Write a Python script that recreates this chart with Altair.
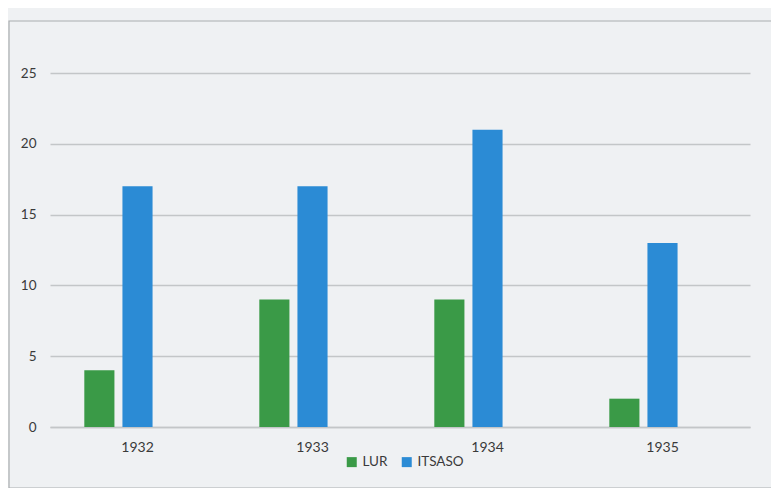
import altair as alt
import pandas as pd

years = ["1932", "1933", "1934", "1935"]
lur = [4, 9, 9, 2]
itsaso = [17, 17, 21, 13]
series = ["LUR", "ITSASO"]
colors = ["#3a9a47", "#2b8bd5"]
y_ticks = [0, 5, 10, 15, 20, 25]

rows = []
for i, y in enumerate(years):
    rows.append({"year": y, "serie": "LUR", "value": lur[i]})
    rows.append({"year": y, "serie": "ITSASO", "value": itsaso[i]})
df = pd.DataFrame(rows)

FONT = "Lato"
TXT = "#3a3a3a"

bars = alt.Chart(df).mark_bar().encode(
    x=alt.X("year:N", sort=years,
            scale=alt.Scale(paddingInner=0, paddingOuter=0),
            axis=alt.Axis(title=None, labelAngle=0, ticks=False, domain=True,
                          domainColor="#c3c6c8", domainWidth=1.5,
                          labelPadding=13, labelFontSize=14, labelFont=FONT,
                          labelColor=TXT)),
    xOffset=alt.XOffset("serie:N",
                        scale=alt.Scale(domain=["LUR", "ITSASO", "_"],
                                        paddingInner=0.21, paddingOuter=0.9)),
    y=alt.Y("value:Q",
            scale=alt.Scale(domain=[0, 25]),
            axis=alt.Axis(title=None, values=y_ticks, ticks=False, domain=False,
                          grid=True, gridColor="#c3c6c8", gridWidth=1.5,
                          labelPadding=14, labelFontSize=13.5, labelFont=FONT,
                          labelColor=TXT)),
    color=alt.Color("serie:N",
                    scale=alt.Scale(domain=series, range=colors),
                    legend=alt.Legend(title=None, orient="none",
                                      legendX=295, legendY=382,
                                      direction="horizontal",
                                      symbolType="square", symbolSize=100,
                                      symbolStrokeWidth=0,
                                      labelFontSize=13.5, labelFont=FONT,
                                      labelColor=TXT, columnPadding=12)),
)

border = alt.Chart(pd.DataFrame({"k": [0]})).mark_rect(
    fill=None, stroke="#a9adb0", strokeWidth=1.2
).encode(
    x=alt.value(-41), x2=alt.value(740),
    y=alt.value(-52), y2=alt.value(415),
)

chart = alt.layer(border, bars).properties(
    width=700, height=354,
    autosize=alt.AutoSizeParams(type="none"),
    padding={"left": 42, "top": 65, "right": 21, "bottom": 61},
    background="#eff1f3",
).configure_view(stroke=None)

chart.save("out.html", embed_options={"renderer": "svg", "actions": False})
